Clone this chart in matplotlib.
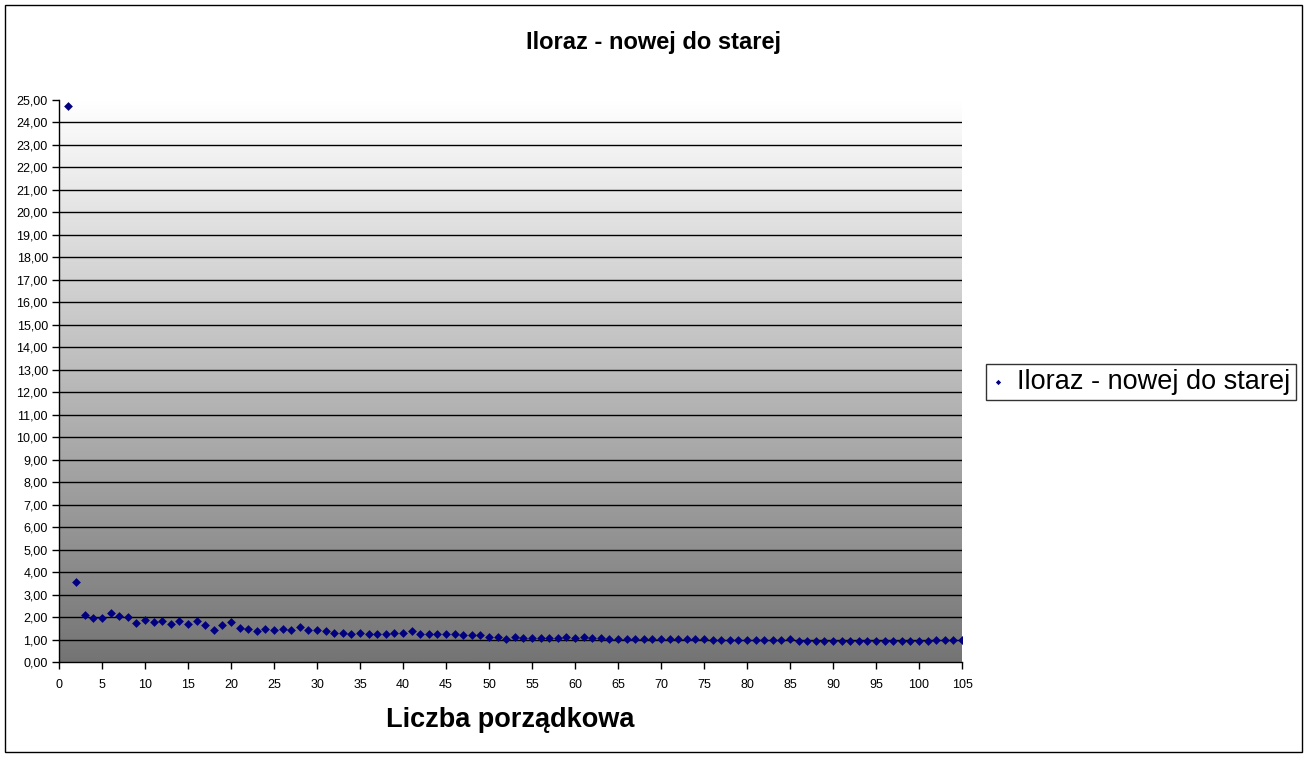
import numpy as np
import matplotlib
matplotlib.use("Agg")
import matplotlib.pyplot as plt
from matplotlib.ticker import FuncFormatter, MultipleLocator
from matplotlib.patches import Rectangle

plt.rcParams['font.family'] = ['Liberation Sans', 'DejaVu Sans']

# dane: liczba porzadkowa i iloraz
liczba = list(range(1, 106))
iloraz = [
    24.75, 3.58, 2.09, 1.97, 1.97, 2.16, 2.06, 2.01, 1.75, 1.88,
    1.76, 1.84, 1.70, 1.81, 1.70, 1.81, 1.66, 1.43, 1.66, 1.76,
    1.52, 1.48, 1.40, 1.48, 1.43, 1.48, 1.43, 1.57, 1.43, 1.43,
    1.36, 1.30, 1.30, 1.25, 1.30, 1.25, 1.25, 1.25, 1.30, 1.30,
    1.36, 1.25, 1.25, 1.25, 1.25, 1.24, 1.22, 1.18, 1.18, 1.13,
    1.13, 1.04, 1.12, 1.06, 1.06, 1.05, 1.06, 1.06, 1.12, 1.06,
    1.12, 1.06, 1.06, 1.03, 1.03, 1.03, 1.03, 1.03, 1.03, 1.03,
    1.03, 1.03, 1.03, 1.03, 1.03, 1.00, 1.00, 1.00, 1.00, 1.00,
    1.00, 1.00, 1.00, 1.00, 1.03, 0.95, 0.95, 0.95, 0.95, 0.95,
    0.95, 0.95, 0.95, 0.95, 0.95, 0.95, 0.95, 0.95, 0.95, 0.95,
    0.95, 0.97, 1.00, 1.00, 1.00,
]
tytul = "Iloraz - nowej do starej"
os_x = "Liczba porządkowa"

W, H = 1307, 758
fig = plt.figure(figsize=(W / 100, H / 100), dpi=100)
ax = fig.add_axes([59 / W, 1 - 662 / H, (962 - 59) / W, (662 - 100) / H])

# tlo z gradientem (bialy -> szary)
grad = np.linspace(0, 1, 256).reshape(-1, 1)
ax.imshow(grad, extent=[0, 1, 0, 1], transform=ax.transAxes, aspect='auto',
          cmap=matplotlib.colors.LinearSegmentedColormap.from_list(
              'g', ['#ffffff', '#747474']), zorder=0, origin='upper')

for v in range(1, 25):
    ax.axhline(v, color='black', lw=1, zorder=1)

ax.scatter(liczba, iloraz, marker='D', s=20, color='#000080', zorder=3,
           label=tytul, linewidths=0)

ax.set_xlim(0, 105)
ax.set_ylim(0, 25)
ax.xaxis.set_major_locator(MultipleLocator(5))
ax.yaxis.set_major_locator(MultipleLocator(1))
fmt = FuncFormatter(lambda v, p: f"{v:.2f}".replace('.', ','))
ax.yaxis.set_major_formatter(fmt)
ax.tick_params(labelsize=9, length=5, width=1, color='black', direction='out', pad=3)
ax.tick_params(axis='x', pad=7)
for s in ['top', 'right']:
    ax.spines[s].set_visible(False)
for s in ['left', 'bottom']:
    ax.spines[s].set_linewidth(1)

ax.set_xlabel(os_x, fontsize=19.5, fontweight='bold', labelpad=12)
fig.text(654 / W, 1 - 42 / H, tytul, ha='center', va='center',
         fontsize=17, fontweight='bold')

leg = ax.legend(loc='center left', bbox_to_anchor=(986 / W, 1 - 382 / H),
                bbox_transform=fig.transFigure, fontsize=19.5, frameon=True,
                fancybox=False, edgecolor='black', markerscale=0.6,
                handlelength=0.5, handletextpad=0.45, borderpad=0.2,
                borderaxespad=0)
leg.get_frame().set_linewidth(1)

fig.patches.append(Rectangle((5 / W, 1 - 752 / H), (1302 - 5) / W, (752 - 5) / H,
                             transform=fig.transFigure, fill=False,
                             edgecolor='black', lw=1))

fig.savefig("out.png", dpi=100)
